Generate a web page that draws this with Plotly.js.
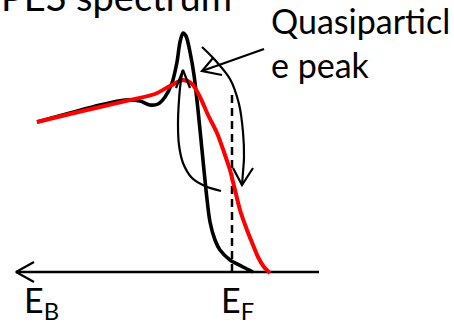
<!DOCTYPE html>
<html>
<head>
<meta charset="utf-8">
<script src="https://cdn.plot.ly/plotly-3.0.1.min.js"></script>
<style>
  html, body { margin: 0; padding: 0; background: #fff; }
  #chart { width: 454px; height: 324px; }
</style>
</head>
<body>
<div id="chart"></div>
<script>
// Energy position (drawing units) and photoemission intensity of the two spectra
const energyBlack = [37, 70, 100, 125, 140, 150, 158, 165, 172, 177, 180, 183, 186, 190, 194, 198, 202, 206, 210, 215, 220, 230, 243, 253];
const intensityBlack = [150, 159, 167, 172, 171, 167, 168, 175, 189, 210, 230, 239, 236, 220, 197, 162, 122, 82, 50, 32, 22, 12, 5, 0];

const energyRed = [37, 70, 100, 130, 155, 170, 183, 192, 200, 208, 217, 225, 230, 235, 240, 247, 253, 258, 264, 270];
const intensityRed = [150, 158, 165, 172, 178, 186, 192, 188, 175, 157, 139, 117, 102, 82, 62, 42, 27, 15, 5, -1];

// Fermi level marker
const fermiEnergy = 232;
const fermiTop = 179;

// Energy axis (arrow points toward higher binding energy)
const axisX = [319, 16];
const axisHeadX = [34, 16, 34];
const axisHeadY = [10, 0, -10];

// Curved guide arrows showing spectral weight transfer
const downArrowX = [202, 215, 230, 239, 243, 244, 243, 242];
const downArrowY = [225, 212, 193, 168, 140, 115, 100, 87];
const downHeadX = [233, 242, 253];
const downHeadY = [104, 87, 104];

const upArrowX = [221, 205, 192, 183, 179, 178, 179, 181, 183];
const upArrowY = [81, 86, 94, 109, 127, 147, 172, 192, 202];
const upHeadX = [176, 183, 190];
const upHeadY = [184, 202, 184];

// Pointer for the quasiparticle label
const pointerX = [264, 202];
const pointerY = [223, 201];
const pointerHeadX = [213, 202, 222];
const pointerHeadY = [214, 201, 197];

const labels = {
  title: 'PES spectrum',
  peak: 'Quasiparticl<br>e peak',
  eb: 'E<sub>B</sub>',
  ef: 'E<sub>F</sub>'
};

const thin = { color: '#000', width: 2.2 };

const traces = [
  { x: axisX, y: [0, 0], mode: 'lines', line: { color: '#000', width: 2.5 } },
  { x: axisHeadX, y: axisHeadY, mode: 'lines', line: { color: '#000', width: 2.2 } },
  { x: [fermiEnergy, fermiEnergy], y: [0, fermiTop], mode: 'lines',
    line: { color: '#000', width: 2.5, dash: '8px,5px' } },
  { x: energyBlack, y: intensityBlack, mode: 'lines',
    line: { color: '#000', width: 3.6, shape: 'spline', smoothing: 0.8 } },
  { x: energyRed, y: intensityRed, mode: 'lines',
    line: { color: '#ff0000', width: 4, shape: 'spline', smoothing: 0.8 } },
  { x: downArrowX, y: downArrowY, mode: 'lines', line: Object.assign({ shape: 'spline' }, thin) },
  { x: downHeadX, y: downHeadY, mode: 'lines', line: thin },
  { x: upArrowX, y: upArrowY, mode: 'lines', line: Object.assign({ shape: 'spline' }, thin) },
  { x: upHeadX, y: upHeadY, mode: 'lines', line: thin },
  { x: pointerX, y: pointerY, mode: 'lines', line: thin },
  { x: pointerHeadX, y: pointerHeadY, mode: 'lines', line: thin }
].map(t => Object.assign({ type: 'scatter', hoverinfo: 'skip' }, t));

const textFont = { family: 'Lato, "Open Sans", sans-serif', size: 34, color: '#000' };

const layout = {
  width: 454,
  height: 324,
  margin: { l: 0, r: 0, t: 0, b: 0 },
  paper_bgcolor: '#fff',
  plot_bgcolor: '#fff',
  showlegend: false,
  xaxis: { range: [0, 454], visible: false, fixedrange: true },
  yaxis: { range: [-52, 272], visible: false, fixedrange: true },
  annotations: [
    { text: labels.title, x: 234, y: 251, xref: 'x', yref: 'y', xanchor: 'right', yanchor: 'bottom',
      showarrow: false, font: Object.assign({}, textFont, { size: 38 }) },
    { text: labels.peak, x: 269, y: 185, xref: 'x', yref: 'y', xanchor: 'left', yanchor: 'bottom',
      align: 'left', showarrow: false, font: textFont },
    { text: labels.eb, x: 22, y: -5, xref: 'x', yref: 'y', xanchor: 'left', yanchor: 'top',
      showarrow: false, font: textFont },
    { text: labels.ef, x: 219, y: -5, xref: 'x', yref: 'y', xanchor: 'left', yanchor: 'top',
      showarrow: false, font: textFont }
  ]
};

Plotly.newPlot('chart', traces, layout, { staticPlot: true, displayModeBar: false });
</script>
</body>
</html>
